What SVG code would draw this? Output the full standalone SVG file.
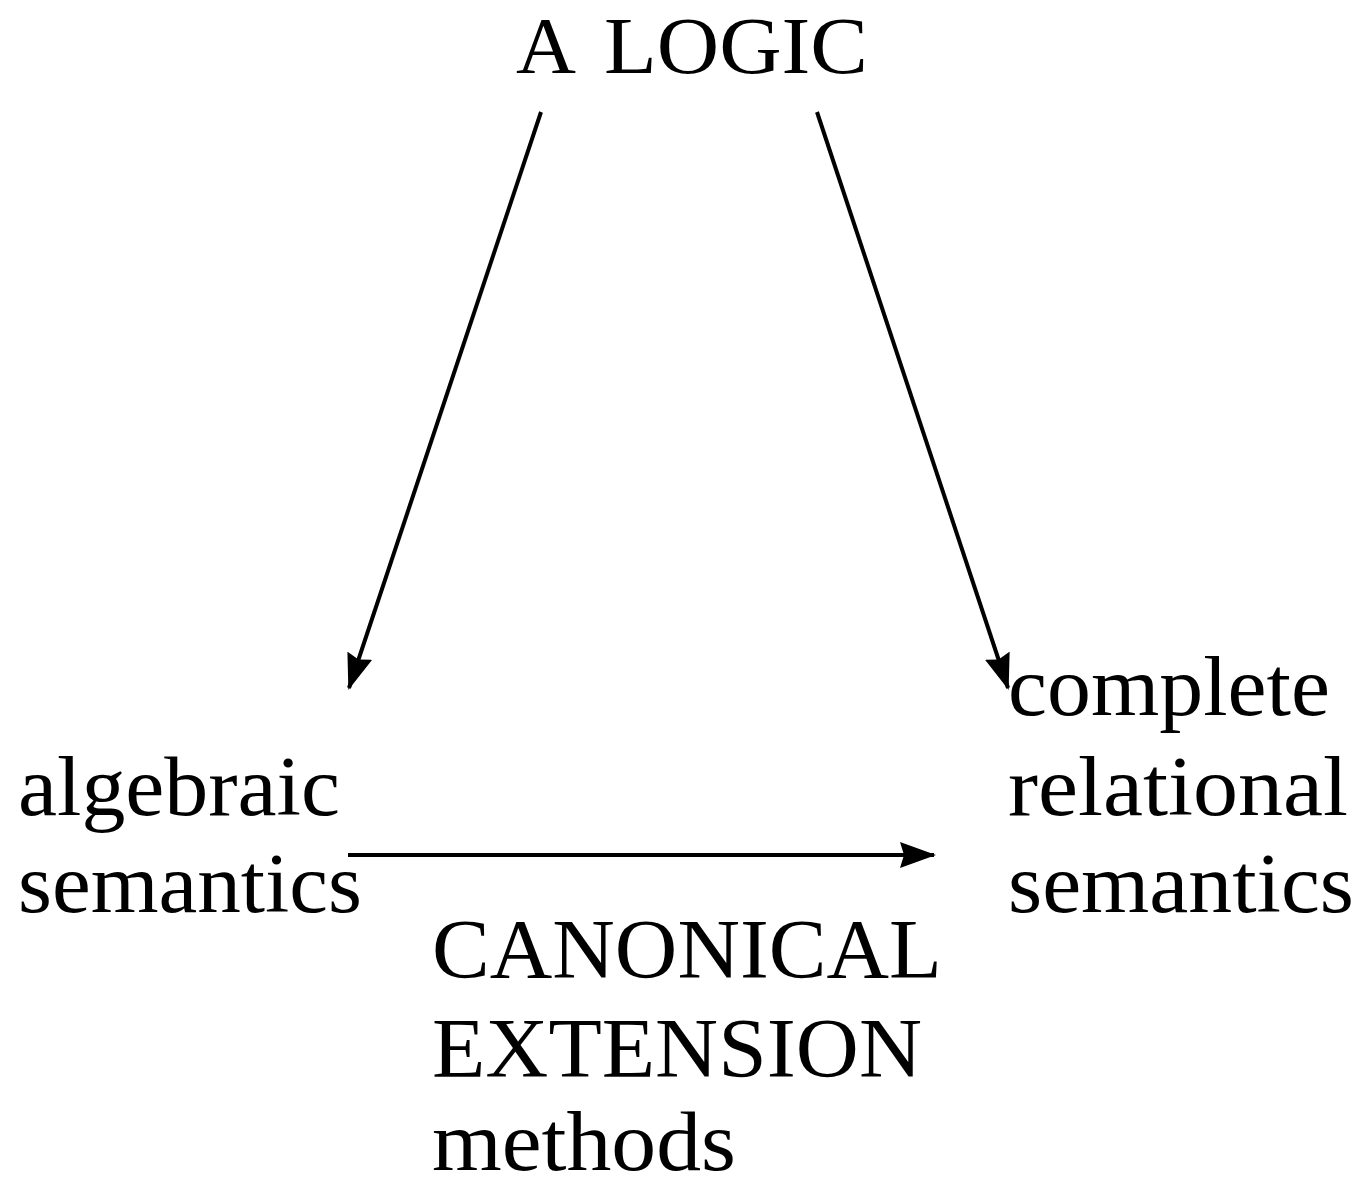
<svg xmlns="http://www.w3.org/2000/svg" width="1361" height="1181" viewBox="0 0 1361 1181">
<defs>
<style>
text{font-family:"Liberation Serif","Times New Roman",serif;font-size:85px;fill:#000}
.c{stroke:#000;stroke-width:4;fill:none}
</style>
<marker id="ah" viewBox="0 0 36 26" refX="34" refY="13" markerWidth="36" markerHeight="26" markerUnits="userSpaceOnUse" orient="auto">
<path d="M0,0 L36,13 L0,26 L4,13 Z" fill="#000"/>
</marker>
</defs>
<rect width="1361" height="1181" fill="#fff"/>
<g id="connectors">
<line class="c" x1="541" y1="112" x2="349" y2="688" marker-end="url(#ah)"/>
<line class="c" x1="817" y1="112" x2="1008" y2="688" marker-end="url(#ah)"/>
<line class="c" x1="348" y1="855" x2="934" y2="855" marker-end="url(#ah)"/>
</g>
<g id="logic"><text y="73" style="font-size:80px"><tspan x="516" textLength="60" lengthAdjust="spacingAndGlyphs">A</tspan><tspan x="604" textLength="264" lengthAdjust="spacingAndGlyphs">LOGIC</tspan></text></g>
<g id="algebraic"><text x="18" y="815" textLength="322" lengthAdjust="spacingAndGlyphs">algebraic</text><text x="18" y="912" textLength="344" lengthAdjust="spacingAndGlyphs">semantics</text></g>
<g id="relational"><text x="1008" y="715" textLength="322" lengthAdjust="spacingAndGlyphs">complete</text><text x="1008" y="815" textLength="340" lengthAdjust="spacingAndGlyphs">relational</text><text x="1008" y="912" textLength="346" lengthAdjust="spacingAndGlyphs">semantics</text></g>
<g id="canonical"><text x="432" y="978" textLength="510" lengthAdjust="spacingAndGlyphs">CANONICAL</text><text x="432" y="1077" textLength="490" lengthAdjust="spacingAndGlyphs">EXTENSION</text><text x="432" y="1170" textLength="304" lengthAdjust="spacingAndGlyphs">methods</text></g>
</svg>
